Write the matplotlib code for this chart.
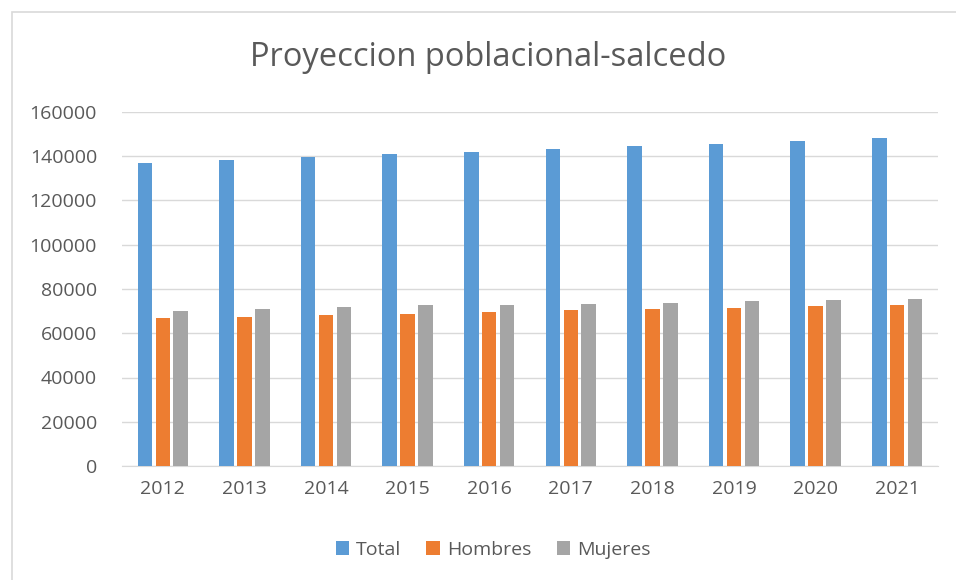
import matplotlib.pyplot as plt
import numpy as np
from matplotlib.patches import Rectangle

years = ['2012', '2013', '2014', '2015', '2016', '2017', '2018', '2019', '2020', '2021']
total = [137000, 138400, 139600, 140800, 142000, 143300, 144700, 145700, 147000, 148300]
hombres = [67000, 67500, 68300, 68800, 69700, 70400, 70900, 71600, 72200, 72800]
mujeres = [70100, 71000, 71900, 72700, 72700, 73300, 73800, 74500, 75000, 75700]

plt.rcParams['font.family'] = ['Open Sans', 'DejaVu Sans']
text_col = '#595959'
grid_col = '#D9D9D9'

fig = plt.figure(figsize=(9.56, 5.8), dpi=100)
ax = fig.add_axes([122 / 956, 114 / 580, 816 / 956, 354 / 580])

x = np.arange(len(years))
w = 0.178
step = 0.22
ax.bar(x - step, total, w, color='#5B9BD5', label='Total', zorder=3)
ax.bar(x, hombres, w, color='#ED7D31', label='Hombres', zorder=3)
ax.bar(x + step, mujeres, w, color='#A5A5A5', label='Mujeres', zorder=3)

ax.set_xlim(-0.5, len(years) - 0.5)
ax.set_ylim(0, 160000)
ax.set_yticks(range(0, 160001, 20000))
ax.set_xticks(x)
ax.set_xticklabels(years)
ax.yaxis.grid(True, color=grid_col, linewidth=1, zorder=0)
ax.tick_params(axis='both', length=0, labelsize=14, labelcolor=text_col)
ax.tick_params(axis='y', pad=18)
ax.tick_params(axis='x', pad=10)
for s in ['top', 'right', 'left']:
    ax.spines[s].set_visible(False)
ax.spines['bottom'].set_color(grid_col)

fig.text(488 / 956, 1 - 58 / 580, 'Proyeccion poblacional-salcedo',
         ha='center', va='center', fontsize=23.5, color=text_col)

fig.legend(loc='center', bbox_to_anchor=(493 / 956, 1 - 550 / 580), ncol=3,
           frameon=False, fontsize=14, labelcolor=text_col,
           handlelength=0.7, handleheight=0.7, handletextpad=0.35, columnspacing=1.3)

# chart area border
fig.patches.append(Rectangle((12 / 956, -0.1), 1.2, 1.1 - 12 / 580,
                             transform=fig.transFigure, fill=False,
                             edgecolor=grid_col, linewidth=1.2))

fig.savefig('out.png', dpi=100)
